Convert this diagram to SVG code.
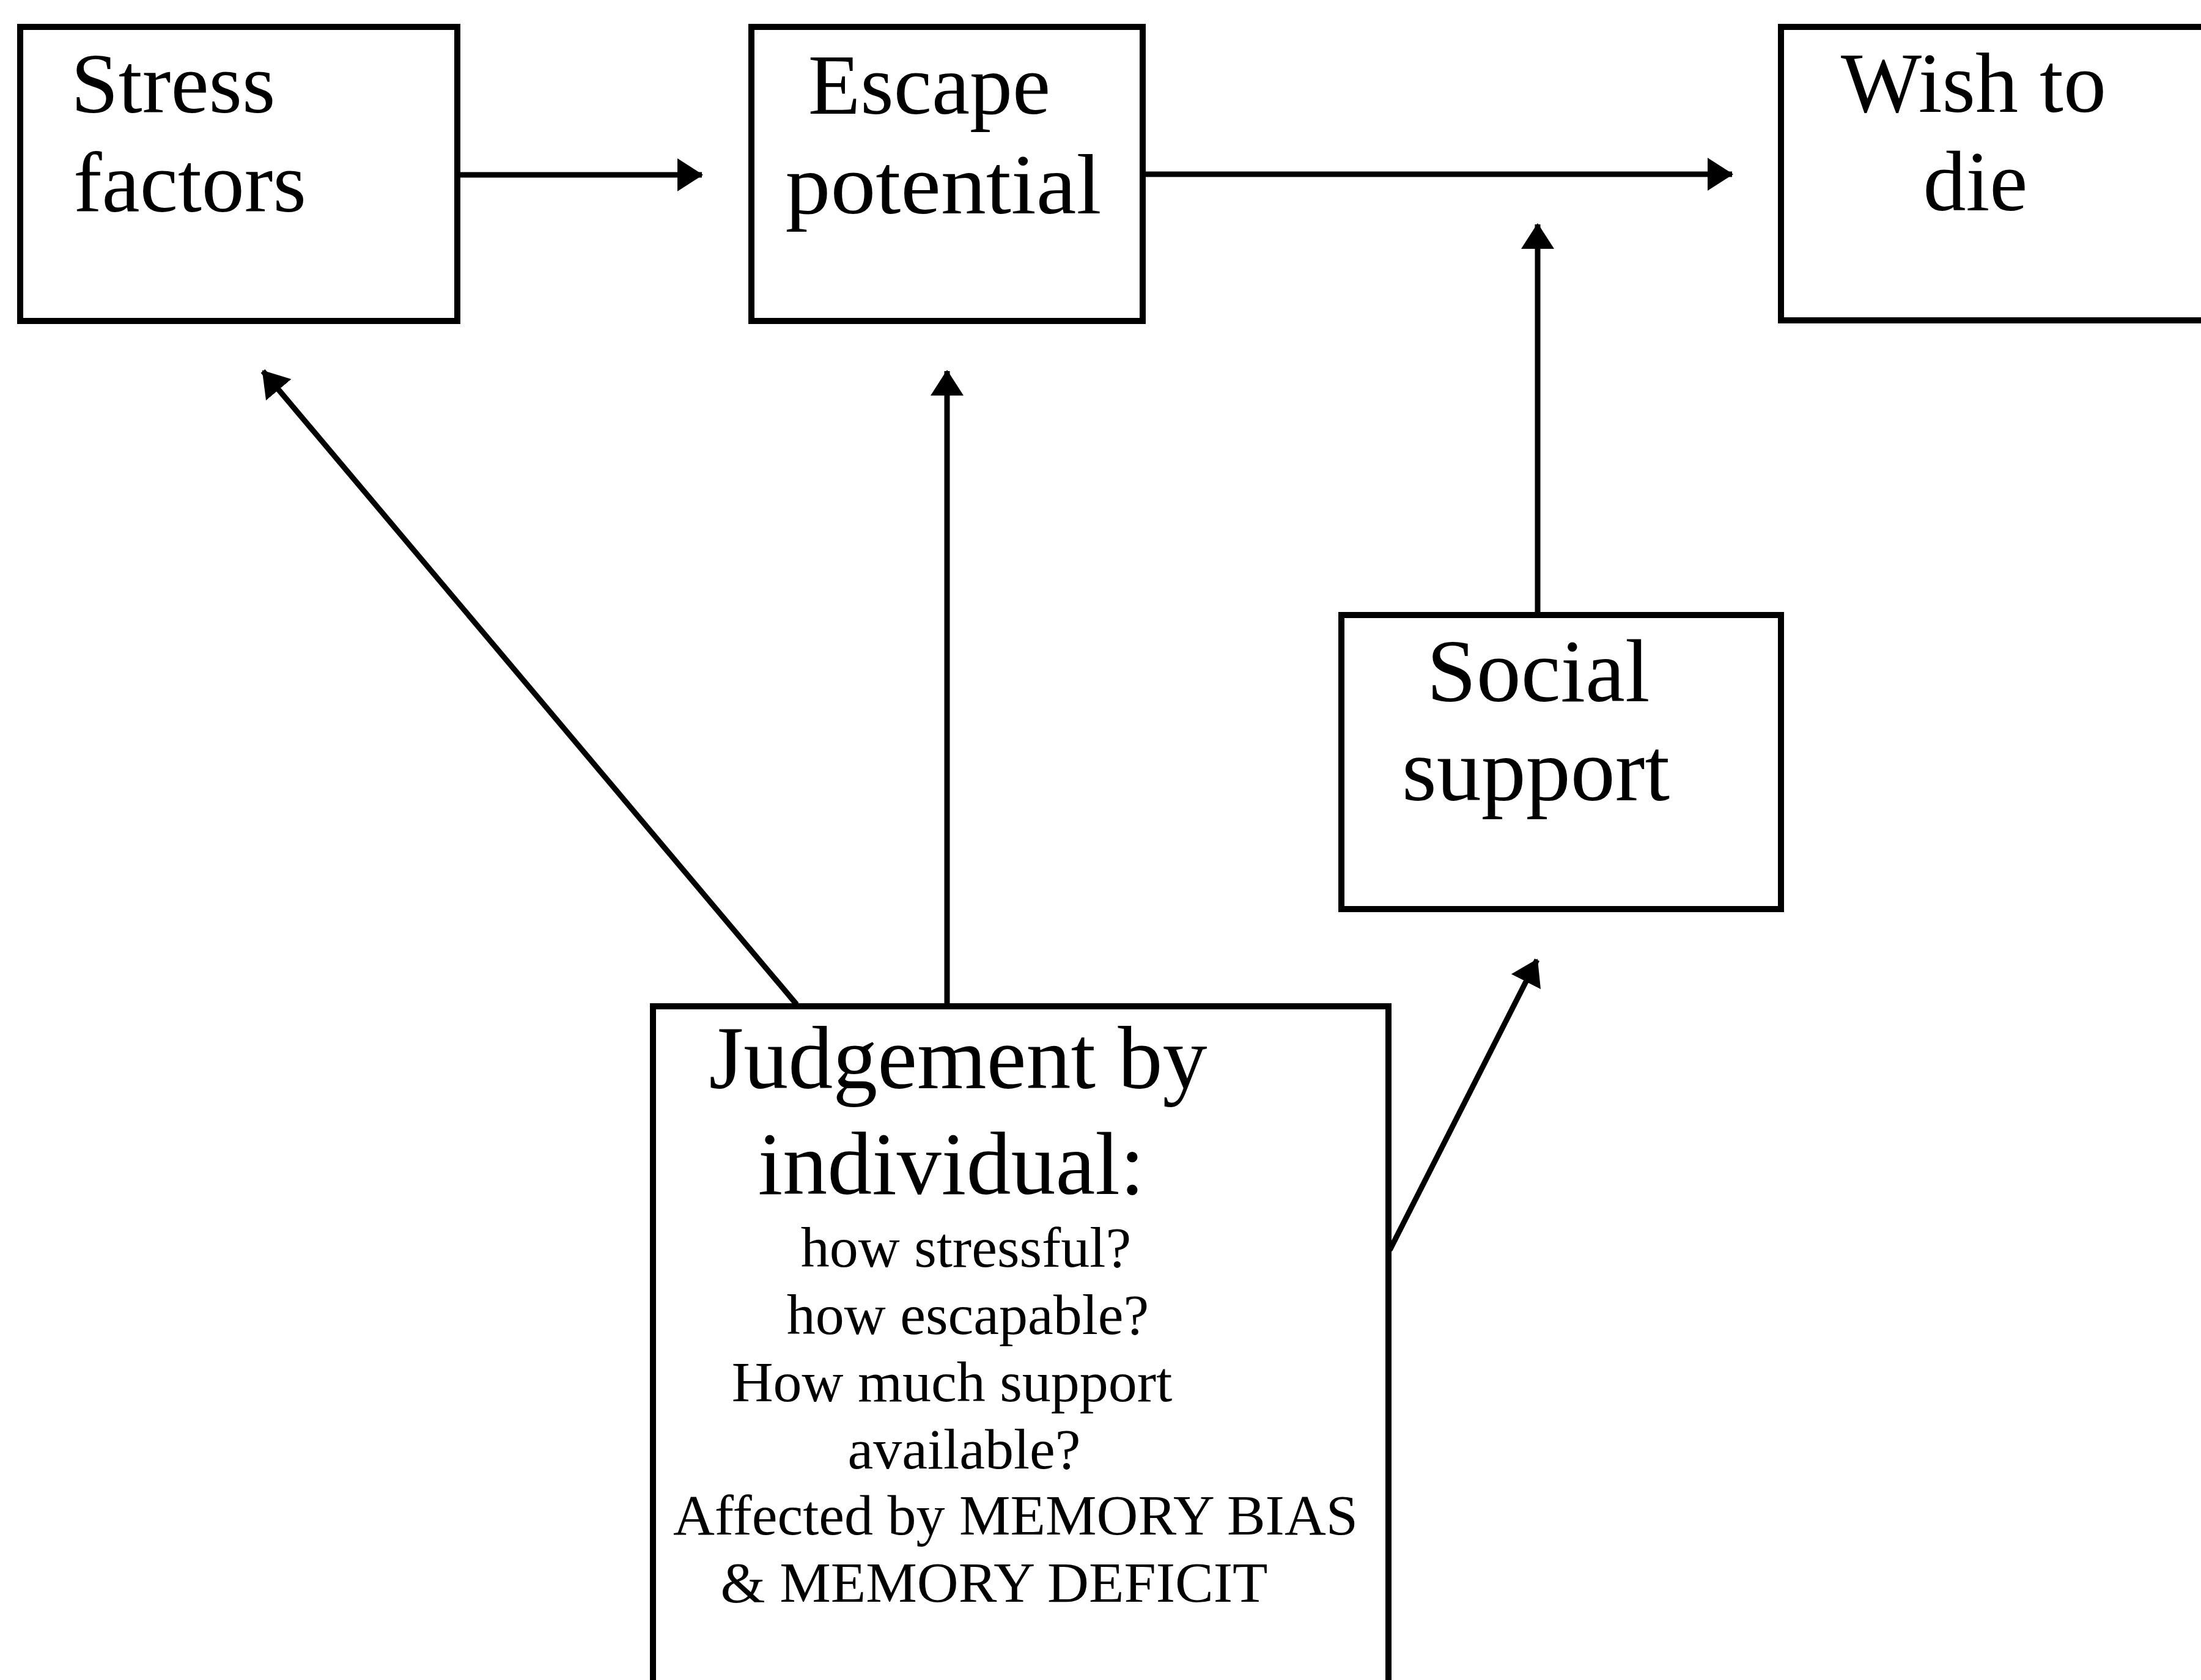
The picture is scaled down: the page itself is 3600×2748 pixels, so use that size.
<svg xmlns="http://www.w3.org/2000/svg" width="3600" height="2748" viewBox="0 0 3600 2748">
<style>
.box{fill:#fff;stroke:#000;stroke-width:10}
.big{font-family:"Liberation Serif","Times New Roman",serif;font-size:140px;fill:#000}
.mid{font-family:"Liberation Serif","Times New Roman",serif;font-size:146px;fill:#000}
.small{font-family:"Liberation Serif","Times New Roman",serif;font-size:94px;fill:#000}
.conn{fill:none;stroke:#000;stroke-width:9}
</style>
<defs>
<marker id="ah" viewBox="0 0 42 54" refX="40" refY="27" markerWidth="42" markerHeight="54" markerUnits="userSpaceOnUse" orient="auto">
<path d="M0,0 L42,27 L0,54 z" fill="#000"/>
</marker>
</defs>
<rect width="3600" height="2748" fill="#fff"/>
<g id="connectors">
<line class="conn" x1="748" y1="286" x2="1148" y2="286" marker-end="url(#ah)"/>
<line class="conn" x1="1869" y1="285" x2="2833" y2="285" marker-end="url(#ah)"/>
<line class="conn" x1="2515" y1="1006" x2="2515" y2="367" marker-end="url(#ah)"/>
<line class="conn" x1="1303" y1="1643" x2="430" y2="607" marker-end="url(#ah)"/>
<line class="conn" x1="1549" y1="1646" x2="1549" y2="607" marker-end="url(#ah)"/>
<line class="conn" x1="2273" y1="2045" x2="2514" y2="1570" marker-end="url(#ah)"/>
</g>
<g id="stress-factors">
<rect class="box" x="33" y="44" width="715" height="481"/>
<text class="big" x="116" y="184">Stress</text>
<text class="big" x="120" y="346">factors</text>
</g>
<g id="escape-potential">
<rect class="box" x="1229" y="44" width="640" height="481"/>
<text class="big" x="1520" y="186" text-anchor="middle">Escape</text>
<text class="big" x="1543" y="349" text-anchor="middle" textLength="517" lengthAdjust="spacingAndGlyphs">potential</text>
</g>
<g id="wish-to-die">
<rect class="box" x="2913" y="44" width="720" height="480"/>
<text class="big" x="3228" y="183" text-anchor="middle">Wish to</text>
<text class="big" x="3231" y="344" text-anchor="middle">die</text>
</g>
<g id="social-support">
<rect class="box" x="2194" y="1006" width="719" height="481"/>
<text class="mid" x="2516" y="1147" text-anchor="middle">Social</text>
<text class="mid" x="2512" y="1309" text-anchor="middle">support</text>
</g>
<g id="judgement">
<rect class="box" x="1068" y="1646" width="1203" height="1200"/>
<text class="mid" x="1567" y="1780" text-anchor="middle">Judgement by</text>
<text class="mid" x="1556" y="1953" text-anchor="middle">individual:</text>
<text class="small" x="1580" y="2072" text-anchor="middle">how stressful?</text>
<text class="small" x="1583" y="2182" text-anchor="middle">how escapable?</text>
<text class="small" x="1557" y="2292" text-anchor="middle">How much support</text>
<text class="small" x="1577" y="2402" text-anchor="middle">available?</text>
<text class="small" x="1661" y="2510" text-anchor="middle">Affected by MEMORY BIAS</text>
<text class="small" x="1626" y="2620" text-anchor="middle">&amp; MEMORY DEFICIT</text>
</g>
</svg>
